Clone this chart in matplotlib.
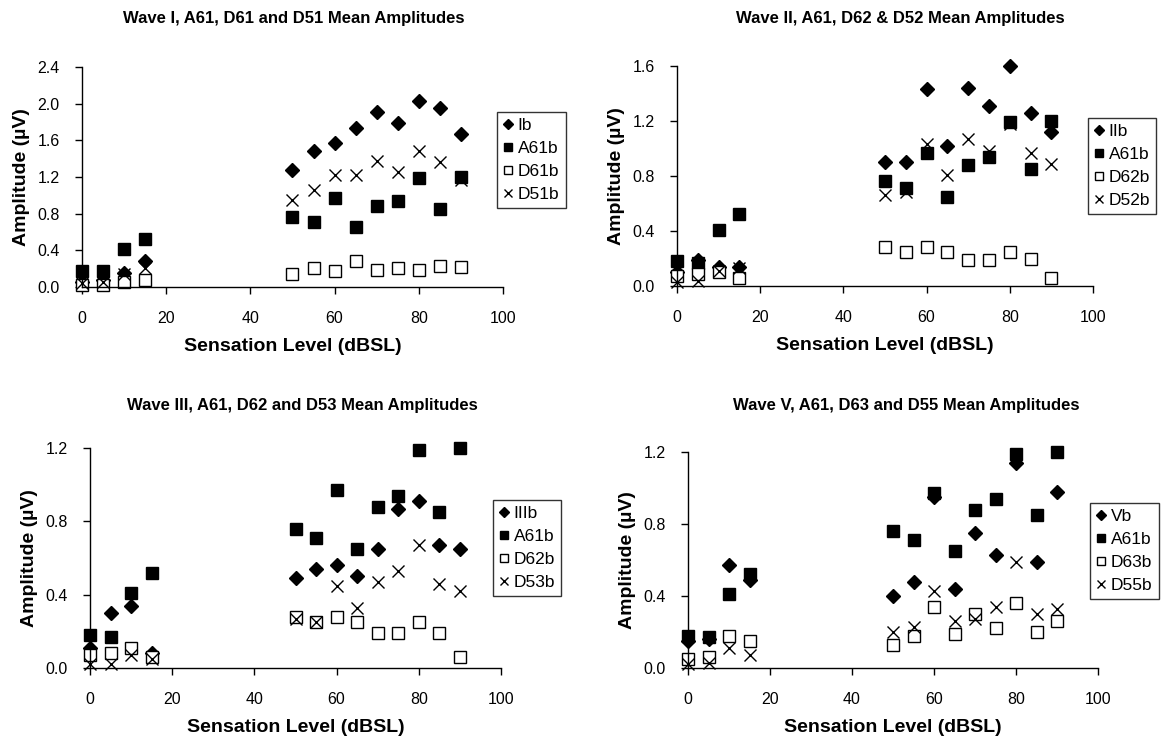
import matplotlib
matplotlib.use("Agg")
import matplotlib.pyplot as plt
from matplotlib.ticker import FormatStrFormatter

plt.rcParams['font.family'] = ['Liberation Sans', 'DejaVu Sans']

levels = [0, 5, 10, 15, 50, 55, 60, 65, 70, 75, 80, 85, 90]

a61b = [0.18, 0.17, 0.41, 0.52, 0.76, 0.71, 0.97, 0.65, 0.88, 0.94, 1.19, 0.85, 1.20]

# Panel 1
wave_i = [0.06, 0.08, 0.15, 0.28, 1.28, 1.48, 1.57, 1.73, 1.91, 1.79, 2.03, 1.95, 1.67]
d61b = [0.02, 0.02, 0.05, 0.08, 0.14, 0.21, 0.17, 0.28, 0.19, 0.21, 0.19, 0.23, 0.22]
d51b = [0.04, 0.06, 0.14, 0.21, 0.95, 1.06, 1.22, 1.22, 1.37, 1.25, 1.48, 1.36, 1.17]

# Panel 2
wave_ii = [0.10, 0.19, 0.14, 0.14, 0.90, 0.90, 1.43, 1.02, 1.44, 1.31, 1.60, 1.26, 1.12]
d62b = [0.07, 0.09, 0.10, 0.06, 0.28, 0.25, 0.28, 0.25, 0.19, 0.19, 0.25, 0.20, 0.06]
d52b = [0.03, 0.04, 0.11, 0.13, 0.66, 0.68, 1.03, 0.81, 1.07, 0.98, 1.18, 0.97, 0.89]

# Panel 3
wave_iii = [0.11, 0.30, 0.34, 0.08, 0.49, 0.54, 0.56, 0.50, 0.65, 0.87, 0.91, 0.67, 0.65]
d62b_iii = [0.07, 0.08, 0.11, 0.06, 0.28, 0.25, 0.28, 0.25, 0.19, 0.19, 0.25, 0.19, 0.06]
d53b = [0.02, 0.02, 0.07, 0.05, 0.27, 0.25, 0.45, 0.33, 0.47, 0.53, 0.67, 0.46, 0.42]

# Panel 4
wave_v = [0.15, 0.16, 0.57, 0.49, 0.40, 0.48, 0.95, 0.44, 0.75, 0.63, 1.14, 0.59, 0.98]
d63b = [0.05, 0.06, 0.18, 0.15, 0.13, 0.18, 0.34, 0.19, 0.30, 0.22, 0.36, 0.20, 0.26]
d55b = [0.02, 0.03, 0.11, 0.07, 0.20, 0.23, 0.43, 0.26, 0.27, 0.34, 0.59, 0.30, 0.33]

titles = ["Wave I, A61, D61 and D51 Mean Amplitudes",
          "Wave II, A61, D62 & D52 Mean Amplitudes",
          "Wave III, A61, D62 and D53 Mean Amplitudes",
          "Wave V, A61, D63 and D55 Mean Amplitudes"]

panels = [
    (titles[0], [("Ib", wave_i), ("A61b", a61b), ("D61b", d61b), ("D51b", d51b)], 2.4),
    (titles[1], [("IIb", wave_ii), ("A61b", a61b), ("D62b", d62b), ("D52b", d52b)], 1.6),
    (titles[2], [("IIIb", wave_iii), ("A61b", a61b), ("D62b", d62b_iii), ("D53b", d53b)], 1.2),
    (titles[3], [("Vb", wave_v), ("A61b", a61b), ("D63b", d63b), ("D55b", d55b)], 1.2),
]

W, H = 1162, 744
fig = plt.figure(figsize=(W / 100, H / 100), dpi=100)

# pixel boxes: (x0, x100, y_top, y_zero)
boxes = [(82, 503, 67, 287), (677, 1093, 66, 286), (90, 501, 448, 668), (688, 1098, 452, 668)]
legend_boxes = [(497, 112), (1088, 118), (493, 500), (1090, 503)]
title_pos = [(294, 19), (900, 19), (302, 406), (906, 406)]

styles = [
    dict(marker='D', color='black', markersize=7, linestyle='none'),
    dict(marker='s', color='black', markersize=8, linestyle='none'),
    dict(marker='s', markerfacecolor='white', markeredgecolor='black', markersize=8,
         markeredgewidth=1.0, linestyle='none'),
    dict(marker='x', color='black', markersize=8, markeredgewidth=1.0, linestyle='none'),
]

for i, (title, series, ymax) in enumerate(panels):
    x0, x1, yt, yb = boxes[i]
    ax = fig.add_axes([x0 / W, 1 - yb / H, (x1 - x0) / W, (yb - yt) / H])
    for (name, vals), st in zip(series, styles):
        ax.plot(levels, vals, label=name, clip_on=False, **st)
    ax.set_xlim(0, 100)
    ax.set_ylim(0, ymax)
    ax.set_xticks(range(0, 101, 20))
    step = 0.4
    n = int(round(ymax / step))
    ax.set_yticks([k * step for k in range(n + 1)])
    ax.yaxis.set_major_formatter(FormatStrFormatter('%.1f'))
    for s in ('top', 'right'):
        ax.spines[s].set_visible(False)
    for s in ('left', 'bottom'):
        ax.spines[s].set_linewidth(1.0)
    ax.tick_params(direction='out', length=5, width=1.0, labelsize=11.5)
    ax.tick_params(axis='x', pad=12)
    ax.tick_params(axis='y', pad=11)
    ax.set_xlabel("Sensation Level (dBSL)", fontsize=14, fontweight='bold', labelpad=9)
    ax.set_ylabel("Amplitude (\u00b5V)", fontsize=14, fontweight='bold', labelpad=5)
    tx, ty = title_pos[i]
    fig.text(tx / W, 1 - ty / H, title, ha='center', va='center',
             fontsize=12, fontweight='bold')
    lx, ly = legend_boxes[i]
    leg = ax.legend(loc='upper left', bbox_to_anchor=(lx / W, 1 - ly / H),
                    bbox_transform=fig.transFigure, fontsize=12.5, frameon=True,
                    fancybox=False, edgecolor='black', borderpad=0.35,
                    labelspacing=0.45, handlelength=0.6, handletextpad=0.25,
                    markerscale=0.8, borderaxespad=0)
    leg.get_frame().set_linewidth(1.0)

fig.savefig("out.png", dpi=100, facecolor='white')
